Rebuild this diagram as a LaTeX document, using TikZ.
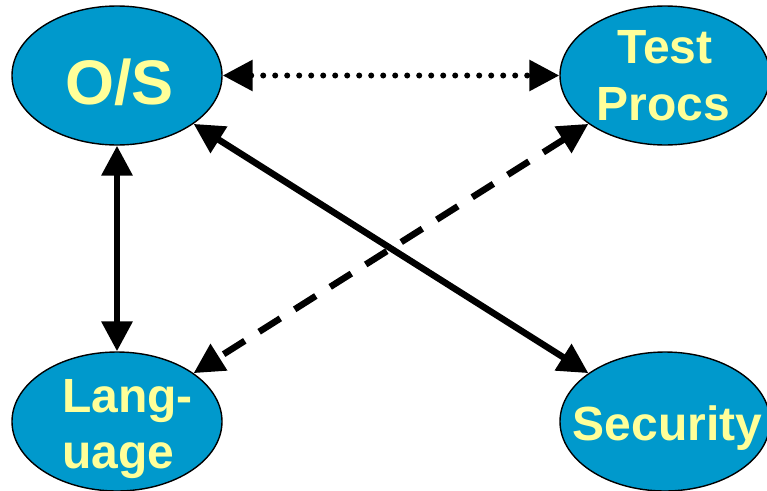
\documentclass[tikz,border=0pt]{standalone}
\usepackage{fontspec}
\setmainfont{Liberation Sans}
\usetikzlibrary{shapes.geometric,arrows.meta}
\definecolor{ellfill}{HTML}{0099CC}
\definecolor{txtyel}{HTML}{FFFF99}
\begin{document}
\begin{tikzpicture}[x=1pt,y=-1pt,
  bubble/.style={ellipse, draw=black, line width=1.4pt, fill=ellfill,
    minimum width=210pt, minimum height=139pt, inner sep=0pt},
  lbl/.style={text=txtyel, font=\bfseries\fontsize{48}{57}\selectfont, inner sep=0pt},
  biglbl/.style={text=txtyel, font=\bfseries\fontsize{63}{70}\selectfont, inner sep=0pt},
  conn/.style={line width=6.5pt,
    {Triangle[length=30pt,width=30pt]}-{Triangle[length=30pt,width=30pt]}},
]
\useasboundingbox (0,0) rectangle (767,490);
\clip (0,0) rectangle (767,490);
\node[bubble] (os)   at (117,75.5) {};
\node[bubble] (tp)   at (665,75.5) {};
\node[bubble] (lang) at (117,421.5) {};
\node[bubble] (sec)  at (665,421.5) {};

\node[biglbl, anchor=base] (ost) at (119.5,104) {O/S};
\node[lbl, anchor=base] (tpa) at (665,63) {Test};
\node[lbl, anchor=base] (tpb) at (663.5,120) {Procs};
\node[lbl, anchor=base west] (lga) at (62,412) {Lang-};
\node[lbl, anchor=base west] (lgb) at (62,468) {uage};
\node[lbl, anchor=base] (sect) at (667.5,440) {Security};

\draw[conn, line width=6pt, line cap=round, dash pattern=on 0pt off 12pt] (os) -- (tp);
\draw[conn] (os) -- (lang);
\draw[conn] (os) -- (sec);
\draw[conn, dash pattern=on 25pt off 17pt] (tp) -- (lang);
\end{tikzpicture}
\end{document}
